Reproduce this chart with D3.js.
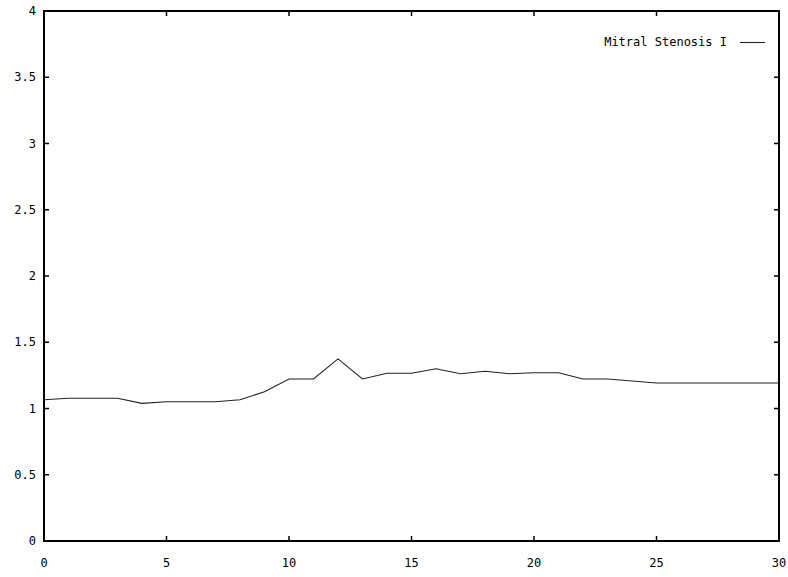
<!DOCTYPE html>
<html><head><meta charset="utf-8">
<script src="https://cdn.jsdelivr.net/npm/d3@7"></script>
<style>body{margin:0;background:#fff}svg{display:block}text{font-family:"DejaVu Sans Mono",monospace;font-size:12px;fill:#000}</style>
</head><body>
<script>
const xValues = [0,1,2,3,4,5,6,7,8,9,10,11,12,13,14,15,16,17,18,19,20,21,22,23,24,25,26,27,28,29,30];
const yValues = [1.066,1.077,1.077,1.077,1.039,1.051,1.051,1.051,1.066,1.127,1.223,1.223,1.374,1.223,1.266,1.266,1.30,1.262,1.281,1.262,1.27,1.27,1.223,1.223,1.208,1.192,1.192,1.192,1.192,1.192,1.192];
const xTicks = [0,5,10,15,20,25,30];
const yTicks = [0,0.5,1,1.5,2,2.5,3,3.5,4];
const yTickLabels = ["0","0.5","1","1.5","2","2.5","3","3.5","4"];
const seriesName = "Mitral Stenosis I";

const W = 788, H = 577;
const L = 44, R = 779, T = 11, B = 541;
const svg = d3.select("body").append("svg").attr("width", W).attr("height", H);
const x = d3.scaleLinear().domain([0,30]).range([L,R]);
const y = d3.scaleLinear().domain([0,4]).range([B,T]);

const tl = 5;
const g = svg.append("g");
// ticks
xTicks.forEach(v => {
  g.append("line").attr("x1",x(v)).attr("x2",x(v)).attr("y1",B).attr("y2",B-tl).attr("stroke","#000").attr("stroke-width",1.5);
  g.append("line").attr("x1",x(v)).attr("x2",x(v)).attr("y1",T).attr("y2",T+tl).attr("stroke","#000").attr("stroke-width",1.5);
  g.append("text").attr("x",x(v)).attr("y",B+26).attr("text-anchor","middle").text(v);
});
yTicks.forEach((v,i) => {
  g.append("line").attr("x1",L).attr("x2",L+tl).attr("y1",y(v)).attr("y2",y(v)).attr("stroke","#000").attr("stroke-width",1.5);
  g.append("line").attr("x1",R).attr("x2",R-tl).attr("y1",y(v)).attr("y2",y(v)).attr("stroke","#000").attr("stroke-width",1.5);
  g.append("text").attr("x",L-8).attr("y",y(v)+4).attr("text-anchor","end").text(yTickLabels[i]);
});
// frame
g.append("rect").attr("x",L).attr("y",T).attr("width",R-L).attr("height",B-T).attr("fill","none").attr("stroke","#000").attr("stroke-width",2);

// line
const line = d3.line().x((d,i)=>x(xValues[i])).y(d=>y(d));
svg.append("path").datum(yValues).attr("d",line).attr("fill","none").attr("stroke","#222").attr("stroke-width",1.1);

// legend
svg.append("text").attr("x",727).attr("y",46).attr("text-anchor","end").text(seriesName);
svg.append("line").attr("x1",740).attr("x2",765).attr("y1",42.5).attr("y2",42.5).attr("stroke","#222").attr("stroke-width",1.1);
</script>
</body></html>
